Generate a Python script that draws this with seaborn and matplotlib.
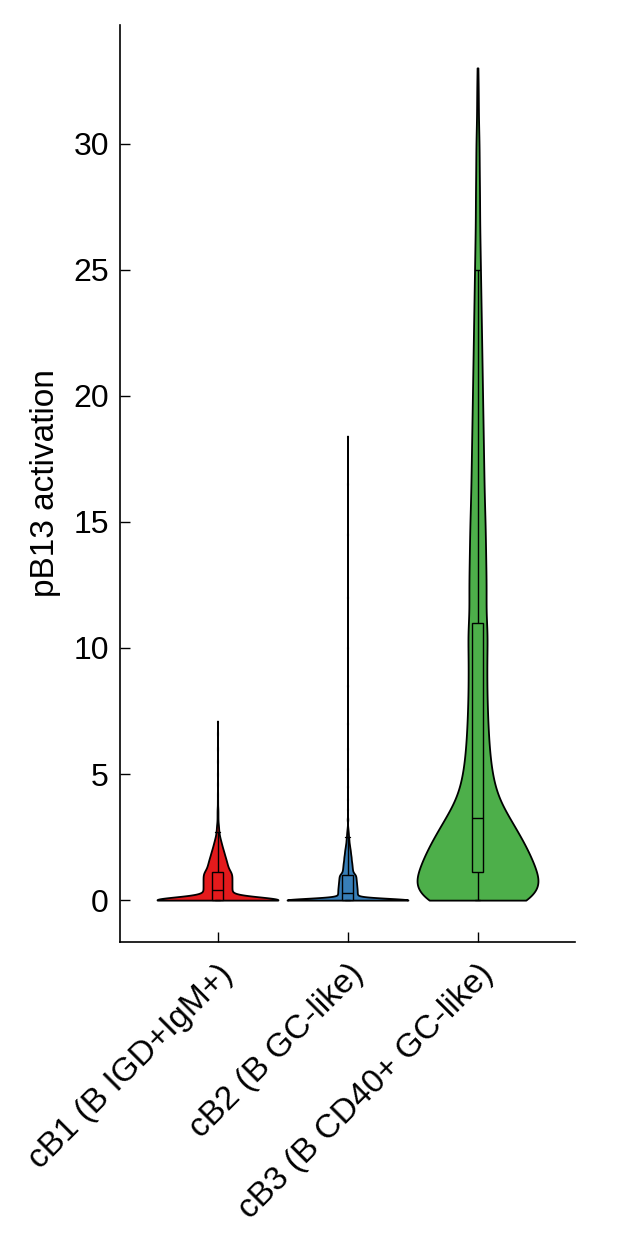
import numpy as np
import pandas as pd
import matplotlib
matplotlib.use("Agg")
import matplotlib.pyplot as plt
import seaborn as sns

# categories and colours
categories = ["cB1 (B IGD+IgM+)", "cB2 (B GC-like)", "cB3 (B CD40+ GC-like)"]
colors = ["#E41A1C", "#377EB8", "#4DAF4A"]

# values, with how many cells sit at each value
cb1_values = [0.0, 0.1, 0.2, 0.3, 0.4, 0.5, 0.6, 0.7, 0.8, 0.9, 1.0, 1.1,
              1.2, 1.3, 1.4, 1.5, 1.6, 1.7, 1.8, 1.9, 2.0, 2.1, 2.2, 2.3, 2.4, 2.5, 2.6, 2.7, 2.8, 2.9,
              3.0, 3.2, 3.4, 3.6, 3.9, 4.2, 4.6, 5.0, 5.5, 6.0, 6.6, 7.1]
cb1_counts = [380, 33, 33, 33, 33, 33, 33, 33, 33, 33, 33, 33,
              26, 24, 23, 21, 20, 18, 16, 15, 13, 11, 10, 8, 7, 5, 4, 3, 3, 2,
              3, 2, 2, 2, 1, 1, 1, 1, 1, 1, 1, 1]

cb2_values = [0.0, 0.1, 0.2, 0.3, 0.4, 0.5, 0.6, 0.7, 0.8, 0.9, 1.0,
              1.1, 1.2, 1.3, 1.4, 1.5, 1.6, 1.7, 1.8, 1.9, 2.0, 2.1, 2.2, 2.3, 2.4, 2.5, 2.6, 2.7, 2.8, 2.9,
              3.2, 3.6, 4.0, 4.5, 5.2, 6.0, 7.0, 8.5, 10.0, 12.0, 14.5, 16.5, 18.4]
cb2_counts = [410, 40, 40, 39, 39, 38, 37, 36, 35, 34, 33,
              22, 20, 19, 18, 17, 15, 15, 13, 12, 11, 9, 8, 6, 6, 4, 4, 3, 2, 1,
              2, 1, 1, 1, 1, 1, 1, 1, 1, 1, 1, 1, 1]

cb3_values = [0.0, 0.25, 0.5, 0.75, 1.0,
              1.25, 1.5, 1.75, 2.0, 2.25, 2.5, 2.75, 3.0, 3.25,
              3.5, 4.0, 4.5, 5.0, 5.5, 6.0, 6.5, 7.0, 7.5, 8.0, 8.5, 9.0, 9.5, 10.0, 10.5,
              11, 12, 13, 14, 15, 16, 17, 18, 19, 20, 21, 22, 23, 24, 25, 26, 27, 28, 29, 30, 31, 32, 33]
cb3_counts = [95, 35, 35, 35, 35,
              36, 34, 32, 30, 28, 26, 23, 21, 19,
              24, 24, 20, 17, 15, 14, 13, 12, 12, 11, 11, 11, 11, 11, 11,
              16, 21, 20, 19, 18, 16, 15, 14, 13, 12, 11, 10, 9, 8, 7, 6, 5, 5, 4, 4, 2, 2, 1]

# kernel width (in data units) used for each violin
bandwidths = [0.12, 0.07, 0.7]

groups = [(cb1_values, cb1_counts), (cb2_values, cb2_counts), (cb3_values, cb3_counts)]
font = ["Liberation Sans", "DejaVu Sans"]

fig = plt.figure(figsize=(6.25, 12.5), dpi=100)
ax = fig.add_axes([0.192, 0.2464, 0.728, 0.7336])
sns.set_style("ticks")
plt.rcParams["font.family"] = font

frames = []
for cat, col, bw, (vals, counts) in zip(categories, colors, bandwidths, groups):
    v = np.repeat(np.array(vals, dtype=float), counts)
    frames.append(pd.DataFrame({"cluster": cat, "activation": v}))
    sns.violinplot(x=np.repeat(cat, len(v)), y=v, order=categories, ax=ax,
                   color=col, cut=0, bw_method=bw / np.std(v, ddof=1),
                   density_norm="width", width=0.93, gridsize=2000, inner=None,
                   linecolor="black", linewidth=1.3, saturation=1)
df = pd.concat(frames, ignore_index=True)

sns.boxplot(data=df, x="cluster", y="activation", hue="cluster", order=categories,
            palette=colors, width=0.08, whis=1.5, showfliers=False,
            linecolor="black", linewidth=1.0, saturation=1, legend=False, ax=ax)

ax.set_xlim(-0.75, 2.75)
ax.set_ylim(-1.66, 34.7)
ax.set_yticks([0, 5, 10, 15, 20, 25, 30])
ax.set_xlabel("")
ax.set_ylabel("pB13 activation", fontsize=24, family=font, labelpad=9)
ax.tick_params(direction="in", length=7, width=1, pad=8, labelsize=23)
for lab in ax.get_yticklabels():
    lab.set_family(font)
ax.set_xticks(range(3))
ax.set_xticklabels(categories, rotation=45, ha="right", rotation_mode="anchor",
                   fontsize=24, family=font)
ax.tick_params(axis="x", pad=12)
sns.despine(ax=ax)
for s in ["left", "bottom"]:
    ax.spines[s].set_linewidth(1.2)

fig.savefig("out.png", dpi=100)
